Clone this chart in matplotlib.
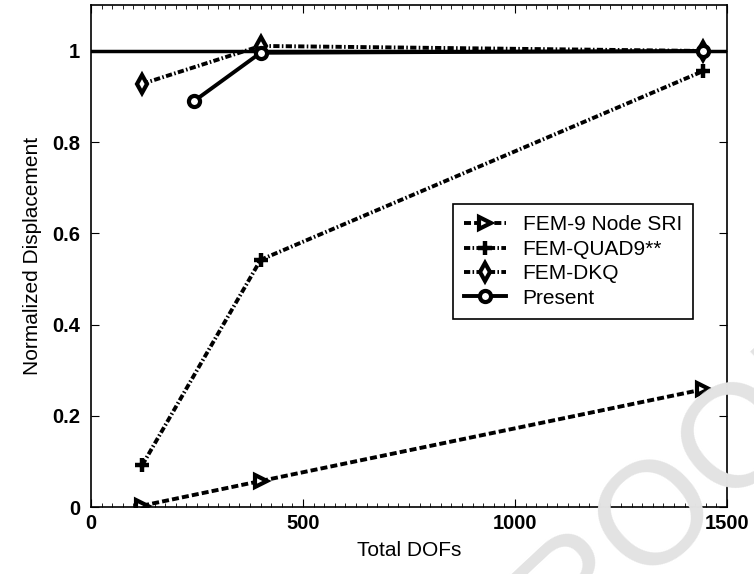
import numpy as np
import matplotlib
matplotlib.use('Agg')
import matplotlib.pyplot as plt
from matplotlib.ticker import MultipleLocator

plt.rcParams['font.family'] = ['Liberation Sans', 'DejaVu Sans']

# data
dofs_sri = [121, 400, 1444]
sri = [0.003, 0.057, 0.258]

dofs_quad9 = [121, 400, 1444]
quad9 = [0.092, 0.542, 0.956]

dofs_dkq = [121, 400, 1444]
dkq = [0.928, 1.011, 1.0]

dofs_present = [243, 400, 1444]
present = [0.890, 0.996, 1.0]

exact = 1.0

dash = (0, (1.8, 0.8))
dashdot = (0, (1.6, 0.6, 0.4, 0.6))

fig = plt.figure(figsize=(7.54, 5.74), dpi=100)
ax = fig.add_axes([0.1207, 0.1167, 0.8435, 0.874])

# faint watermark
fig.text(0.872, 0.105, 'PROOF', fontsize=105, color='#e3e3e3', rotation=43,
         ha='center', va='center', zorder=0)
ax.set_facecolor('none')

ax.axhline(exact, color='k', linewidth=2.5, zorder=2)

ax.plot(dofs_sri, sri, linestyle=dash, color='k', linewidth=2.8, marker='>',
        markersize=9, markerfacecolor='white', markeredgewidth=3,
        label='FEM-9 Node SRI')
ax.plot(dofs_quad9, quad9, linestyle=dashdot, color='k', linewidth=2.8, marker='+',
        markersize=10, markeredgewidth=3.2, label='FEM-QUAD9**')
ax.plot(dofs_dkq, dkq, linestyle=dashdot, color='k', linewidth=2.8, marker='d',
        markersize=9, markerfacecolor='white', markeredgewidth=3,
        label='FEM-DKQ')
ax.plot(dofs_present, present, linestyle='-', color='k', linewidth=2.8, marker='o',
        markersize=8, markerfacecolor='white', markeredgewidth=3,
        label='Present')

ax.set_xlim(0, 1500)
ax.set_ylim(0, 1.1)
ax.xaxis.set_major_locator(MultipleLocator(500))
ax.xaxis.set_minor_locator(MultipleLocator(25))
ax.set_yticks([0, 0.2, 0.4, 0.6, 0.8, 1.0])
ax.set_yticklabels(['0', '0.2', '0.4', '0.6', '0.8', '1'])
ax.tick_params(which='both', direction='in', top=True, right=True)
ax.tick_params(which='major', length=6, labelsize=14.5, pad=5)
ax.tick_params(axis='y', pad=8)
ax.tick_params(which='minor', length=3)
for lab in ax.get_xticklabels() + ax.get_yticklabels():
    lab.set_fontweight('bold')
for s in ax.spines.values():
    s.set_linewidth(1.2)

ax.set_xlabel('Total DOFs', fontsize=15, labelpad=6)
ax.set_ylabel('Normalized Displacement', fontsize=15, labelpad=7)

leg = ax.legend(loc='upper right', bbox_to_anchor=(0.947, 0.604),
                borderaxespad=0, fontsize=15, fancybox=False, edgecolor='k',
                framealpha=1, handlelength=2.0, handletextpad=0.8,
                labelspacing=0.26, borderpad=0.55)
leg.get_frame().set_linewidth(1.2)

fig.savefig('out.png', dpi=100)
